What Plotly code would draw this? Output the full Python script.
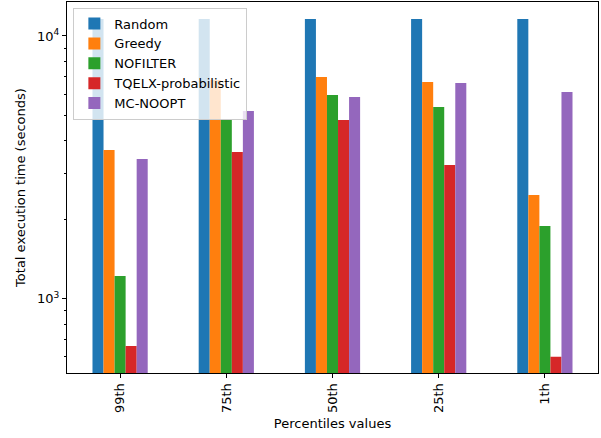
import plotly.graph_objects as go

# Percentile groups on the x axis
percentiles = ["99th", "75th", "50th", "25th", "1th"]

# Total execution time (seconds) per method
random_vals = [11600, 11600, 11600, 11600, 11600]
greedy_vals = [3680, 6800, 6980, 6680, 2480]
nofilter_vals = [1220, 4830, 5960, 5370, 1890]
tqelx_vals = [661, 3620, 4790, 3230, 601]
mcnoopt_vals = [3400, 5180, 5860, 6620, 6120]

series = [
    ("Random", random_vals, "#1f77b4"),
    ("Greedy", greedy_vals, "#ff7f0e"),
    ("NOFILTER", nofilter_vals, "#2ca02c"),
    ("TQELX-probabilistic", tqelx_vals, "#d62728"),
    ("MC-NOOPT", mcnoopt_vals, "#9467bd"),
]

FONT = "DejaVu Sans"

fig = go.Figure()
for name, vals, color in series:
    fig.add_trace(go.Bar(
        x=percentiles, y=vals, name=name,
        marker=dict(color=color, line=dict(width=0)),
    ))

minor_vals = [600, 700, 800, 900] + [k * 1000 for k in range(2, 10)]

fig.update_layout(
    width=601, height=438,
    margin=dict(l=67, r=3, t=2, b=65),
    paper_bgcolor="white", plot_bgcolor="white",
    barmode="group", bargap=0.48, bargroupgap=0,
    font=dict(family=FONT, size=13, color="black"),
    legend=dict(
        x=0.012, y=0.985, xanchor="left", yanchor="top",
        bgcolor="rgba(255,255,255,0.8)", bordercolor="#cccccc", borderwidth=1,
        font=dict(size=13), tracegroupgap=0,
    ),
    showlegend=True,
)

fig.update_xaxes(
    type="category", range=[-0.5, 4.5],
    tickangle=-90, ticks="outside", ticklen=4, tickcolor="black",
    showline=True, linecolor="black", linewidth=1, mirror=True,
    showgrid=False,
    title=dict(text="Percentiles values", font=dict(size=13), standoff=6),
)

fig.update_yaxes(
    type="log", range=[2.717, 4.1294],
    tickvals=[1000, 10000], ticktext=["10<sup>3</sup>", "10<sup>4</sup>"],
    ticks="outside", ticklen=4, tickcolor="black",
    minor=dict(tickvals=minor_vals, ticks="outside", ticklen=2, tickcolor="black", showgrid=False),
    showline=True, linecolor="black", linewidth=1, mirror=True,
    showgrid=False, zeroline=False,
    title=dict(text="Total execution time (seconds)", font=dict(size=13), standoff=8),
)

fig.write_html("out.html")
